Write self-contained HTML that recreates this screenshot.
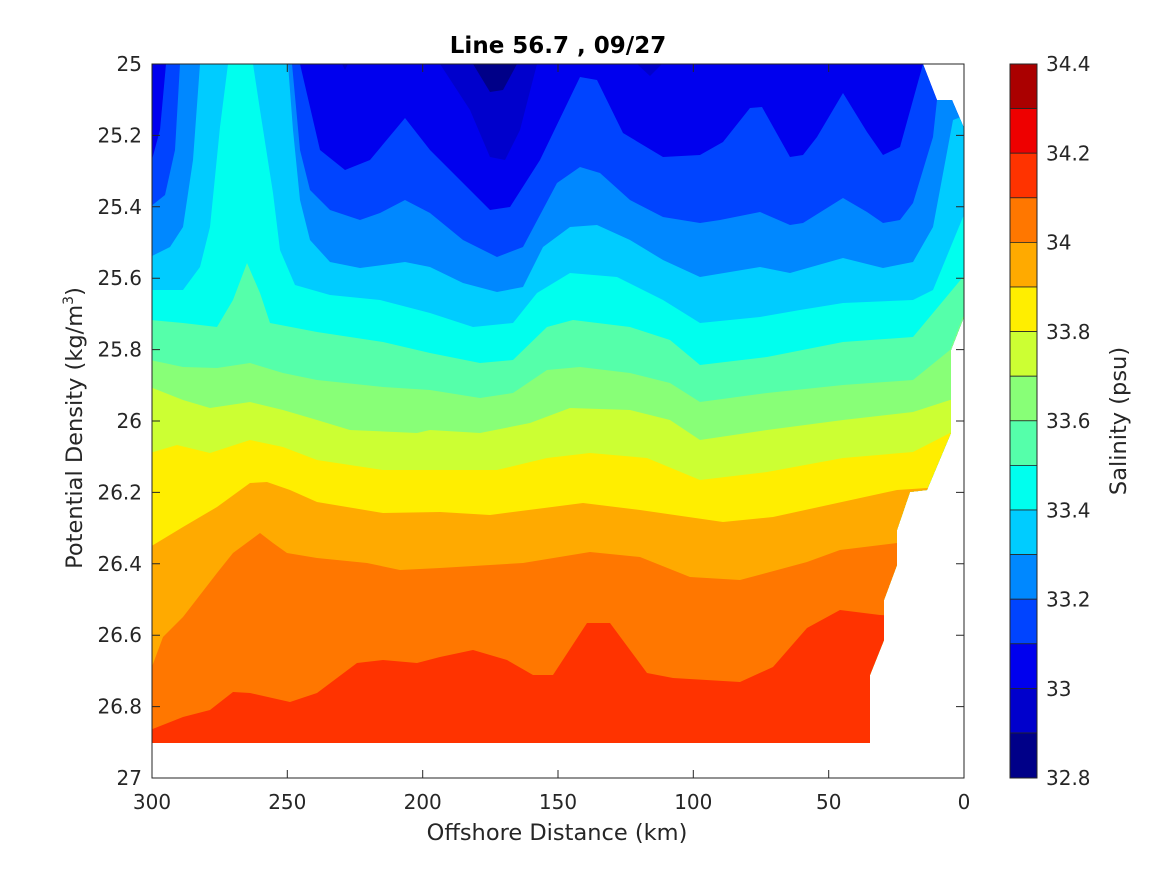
<!DOCTYPE html>
<html><head><meta charset="utf-8"><style>
html,body{margin:0;padding:0;background:#fff;}
svg text{font-family:"DejaVu Sans","Liberation Sans",sans-serif;fill:#262626;}
</style></head><body>
<svg width="1167" height="875" viewBox="0 0 1167 875" xmlns="http://www.w3.org/2000/svg">
<defs>
<clipPath id="d"><polygon points="152,64 923,64 937,100 952,100 964,128 964,317 951,350 951,433 927,490 910,492 897,530 897,565 884,600 884,640 870,675 870,743 152,743"/></clipPath>
</defs>
<g clip-path="url(#d)">
<rect x="140" y="50" width="840" height="760" fill="#0000ee"/>
<path fill="#0000cc" d="M440,50 L440,64 L470,110 L490,157 L505,160 L520,130 L537,64 L537,50 Z M335,50 L345,70 L355,50 Z M630,50 L637,64 L650,76 L662,64 L668,50 Z"/>
<path fill="#000088" d="M473,50 L473,64 L490,92 L503,90 L517,64 L517,50 Z"/>
<path fill="#0044ff" d="M140,167 L150,167 L160,130 L166,64 L166,50 L300,50 L300,64 L320,150 L345,170 L370,160 L405,118 L430,150 L490,210 L510,207 L540,160 L580,77 L597,80 L623,133 L663,157 L700,155 L723,142 L750,108 L762,107 L790,157 L803,155 L817,137 L843,93 L867,132 L883,155 L900,147 L923,64 L925,50 L980,50 L980,810 L140,810 Z"/>
<path fill="#0088ff" d="M140,207 L150,207 L165,195 L175,150 L180,64 L182,50 L290,50 L292,64 L300,150 L310,190 L330,210 L360,220 L380,213 L405,200 L430,213 L463,240 L497,257 L523,247 L557,183 L580,167 L600,173 L630,200 L663,217 L700,223 L720,220 L760,212 L790,225 L803,223 L843,198 L867,212 L883,223 L900,220 L913,203 L933,137 L937,100 L950,90 L980,90 L980,810 L140,810 Z"/>
<path fill="#00ccff" d="M140,257 L150,257 L170,247 L183,227 L193,160 L200,64 L200,50 L287,50 L288,64 L293,130 L300,200 L310,240 L330,262 L360,268 L405,262 L430,267 L463,283 L497,292 L523,287 L543,247 L570,227 L597,225 L630,240 L663,260 L700,277 L760,267 L790,273 L843,258 L883,268 L913,262 L933,227 L953,120 L980,110 L980,810 L140,810 Z"/>
<path fill="#00ffee" d="M140,290 L183,290 L200,267 L210,227 L220,127 L228,64 L232,50 L250,50 L253,64 L260,110 L273,193 L280,250 L295,285 L330,295 L380,300 L430,313 L473,327 L513,323 L537,293 L570,273 L617,277 L663,300 L700,323 L760,317 L800,310 L843,303 L913,300 L933,290 L963,217 L980,210 L980,810 L140,810 Z"/>
<path fill="#55ffaa" d="M140,320 L150,320 L183,323 L217,327 L233,300 L247,263 L260,293 L270,323 L317,332 L383,342 L430,353 L480,363 L513,360 L547,327 L573,320 L630,327 L670,340 L700,365 L767,357 L843,342 L913,337 L963,277 L980,270 L980,810 L140,810 Z"/>
<path fill="#88ff77" d="M140,360 L150,360 L183,367 L217,368 L250,363 L283,373 L317,380 L383,387 L430,390 L480,398 L513,393 L547,370 L580,367 L630,373 L670,383 L700,402 L767,393 L843,385 L913,380 L950,350 L963,317 L980,310 L980,810 L140,810 Z"/>
<path fill="#ccff33" d="M140,387 L150,387 L183,400 L210,408 L250,402 L283,410 L317,420 L350,430 L417,433 L430,430 L480,433 L530,423 L570,408 L630,410 L670,420 L700,440 L767,430 L843,420 L913,412 L950,400 L980,395 L980,810 L140,810 Z"/>
<path fill="#ffee00" d="M140,453 L150,453 L177,445 L210,453 L250,440 L283,447 L317,460 L383,470 L430,470 L497,470 L547,458 L590,453 L647,458 L700,480 L767,472 L843,458 L913,452 L950,433 L980,430 L980,810 L140,810 Z"/>
<path fill="#ffaa00" d="M140,547 L150,547 L183,527 L217,507 L250,483 L267,482 L290,490 L317,502 L383,513 L440,512 L490,515 L583,503 L640,510 L723,522 L773,517 L897,490 L927,488 L980,480 L980,810 L140,810 Z"/>
<path fill="#ff7700" d="M140,672 L150,672 L163,637 L183,617 L217,573 L233,553 L260,533 L273,543 L287,553 L317,558 L367,563 L400,570 L440,568 L523,563 L590,552 L640,557 L690,577 L740,580 L807,562 L840,550 L897,543 L980,540 L980,810 L140,810 Z"/>
<path fill="#ff3300" d="M140,730 L150,730 L183,717 L210,710 L233,692 L250,693 L290,702 L317,693 L357,663 L383,660 L417,663 L440,657 L473,650 L507,660 L533,675 L553,675 L587,623 L610,623 L647,673 L673,678 L740,682 L773,667 L807,628 L840,610 L880,615 L980,620 L980,810 L140,810 Z"/>
</g>
<rect x="152" y="64" width="812" height="714" fill="none" stroke="#262626" stroke-width="1"/>
<g stroke="#262626" stroke-width="1">
<path d="M152,64h8M152,135.4h8M152,206.8h8M152,278.2h8M152,349.6h8M152,421h8M152,492.4h8M152,563.8h8M152,635.2h8M152,706.6h8M152,778h8"/>
<path d="M964,64h-8M964,135.4h-8M964,206.8h-8M964,278.2h-8M964,349.6h-8M964,421h-8M964,492.4h-8M964,563.8h-8M964,635.2h-8M964,706.6h-8M964,778h-8"/>
<path d="M152,778v-8M287.3,778v-8M422.7,778v-8M558,778v-8M693.3,778v-8M828.7,778v-8M964,778v-8"/>
<path d="M152,64v8M287.3,64v8M422.7,64v8M558,64v8M693.3,64v8M828.7,64v8M964,64v8"/>
</g>
<g font-size="20" text-anchor="end">
<text x="142" y="71">25</text>
<text x="142" y="142.4">25.2</text>
<text x="142" y="213.8">25.4</text>
<text x="142" y="285.2">25.6</text>
<text x="142" y="356.6">25.8</text>
<text x="142" y="428">26</text>
<text x="142" y="499.4">26.2</text>
<text x="142" y="570.8">26.4</text>
<text x="142" y="642.2">26.6</text>
<text x="142" y="713.6">26.8</text>
<text x="142" y="785">27</text>
</g>
<g font-size="20" text-anchor="middle">
<text x="152" y="809">300</text>
<text x="287.3" y="809">250</text>
<text x="422.7" y="809">200</text>
<text x="558" y="809">150</text>
<text x="693.3" y="809">100</text>
<text x="828.7" y="809">50</text>
<text x="964" y="809">0</text>
</g>
<text x="557" y="840" font-size="22.5" text-anchor="middle">Offshore Distance (km)</text>
<text transform="translate(82,428) rotate(-90)" font-size="22.5" text-anchor="middle">Potential Density (kg/m<tspan font-size="14" dy="-9">3</tspan><tspan dy="9">)</tspan></text>
<text x="558" y="53" font-size="23" font-weight="bold" text-anchor="middle" style="fill:#000">Line 56.7 , 09/27</text>
<g stroke="#262626" stroke-width="0.8">
<rect x="1010" y="64" width="27" height="44.6" fill="#aa0000"/>
<rect x="1010" y="108.6" width="27" height="44.6" fill="#ee0000"/>
<rect x="1010" y="153.2" width="27" height="44.6" fill="#ff3300"/>
<rect x="1010" y="197.8" width="27" height="44.6" fill="#ff7700"/>
<rect x="1010" y="242.4" width="27" height="44.6" fill="#ffaa00"/>
<rect x="1010" y="287" width="27" height="44.6" fill="#ffee00"/>
<rect x="1010" y="331.6" width="27" height="44.6" fill="#ccff33"/>
<rect x="1010" y="376.2" width="27" height="44.6" fill="#88ff77"/>
<rect x="1010" y="420.8" width="27" height="44.6" fill="#55ffaa"/>
<rect x="1010" y="465.4" width="27" height="44.6" fill="#00ffee"/>
<rect x="1010" y="510" width="27" height="44.6" fill="#00ccff"/>
<rect x="1010" y="554.6" width="27" height="44.6" fill="#0088ff"/>
<rect x="1010" y="599.2" width="27" height="44.6" fill="#0044ff"/>
<rect x="1010" y="643.8" width="27" height="44.6" fill="#0000ee"/>
<rect x="1010" y="688.4" width="27" height="44.6" fill="#0000cc"/>
<rect x="1010" y="733" width="27" height="45" fill="#000088"/>
</g>
<rect x="1010" y="64" width="27" height="714" fill="none" stroke="#262626" stroke-width="1"/>
<g font-size="20">
<text x="1046" y="71">34.4</text>
<text x="1046" y="160.3">34.2</text>
<text x="1046" y="249.5">34</text>
<text x="1046" y="338.8">33.8</text>
<text x="1046" y="428">33.6</text>
<text x="1046" y="517.3">33.4</text>
<text x="1046" y="606.5">33.2</text>
<text x="1046" y="695.8">33</text>
<text x="1046" y="785">32.8</text>
</g>
<text transform="translate(1126,421) rotate(-90)" font-size="22.5" text-anchor="middle">Salinity (psu)</text>
</svg>
</body></html>
